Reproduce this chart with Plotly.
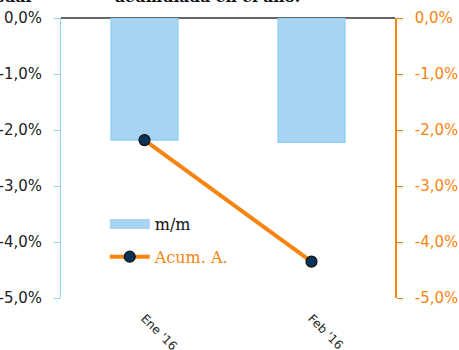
import plotly.graph_objects as go

categories = ["Ene '16", "Feb '16"]
mm_values = [-2.18, -2.22]
acum_values = [-2.18, -4.35]
tick_vals = [0, -1, -2, -3, -4, -5]
tick_text = ["0,0%", "-1,0%", "-2,0%", "-3,0%", "-4,0%", "-5,0%"]

ORANGE = "#f7840f"
BLUE_FILL = "#a8d4f3"
BLUE_LINE = "#8fd0f5"

fig = go.Figure()
fig.add_trace(go.Bar(
    x=categories, y=mm_values, name="m/m", width=0.4,
    marker=dict(color=BLUE_FILL, line=dict(color=BLUE_LINE, width=1.5)),
    showlegend=False, yaxis="y",
))
# legend entry for the bars (wide swatch like the reference)
fig.add_trace(go.Scatter(
    x=[None], y=[None], name="m/m", mode="lines",
    line=dict(color=BLUE_FILL, width=10),
    legendgroup="a", yaxis="y",
))
fig.add_trace(go.Scatter(
    x=categories, y=acum_values,
    name='<span style="color:%s">Acum. A.</span>' % ORANGE,
    mode="lines+markers",
    line=dict(color=ORANGE, width=4),
    marker=dict(color="#0b3356", size=11, line=dict(color="#111111", width=1.2)),
    legendgroup="b", yaxis="y2",
))

fig.update_layout(
    width=459, height=350,
    margin=dict(l=61, r=64, t=18, b=52, autoexpand=False),
    paper_bgcolor="white", plot_bgcolor="white",
    showlegend=True,
    legend=dict(x=0.131, y=0.325, xanchor="left", yanchor="top",
                traceorder="grouped", tracegroupgap=9,
                font=dict(family="DejaVu Serif", size=16, color="#111111"),
                bgcolor="rgba(0,0,0,0)", itemwidth=40),
    xaxis=dict(showgrid=False, showline=False, ticks="", tickangle=45,
               ticklabelstandoff=10, automargin=False,
               tickfont=dict(family="DejaVu Sans", size=12, color="#222222")),
    yaxis=dict(range=[-5, 0], tickvals=tick_vals, ticktext=tick_text,
               showgrid=False, zeroline=True, zerolinecolor="#666666", zerolinewidth=2,
               showline=True, linecolor=BLUE_LINE, linewidth=1,
               ticks="outside", ticklen=6, tickcolor=BLUE_LINE,
               ticklabelstandoff=9, automargin=False,
               tickfont=dict(family="DejaVu Sans", size=15, color="#222222")),
    yaxis2=dict(range=[-5, 0], tickvals=tick_vals, ticktext=tick_text,
                overlaying="y", side="right",
                showgrid=False, zeroline=False,
                showline=True, linecolor=ORANGE, linewidth=1.5,
                ticks="outside", ticklen=6, tickcolor=ORANGE,
                ticklabelstandoff=9, automargin=False,
                tickfont=dict(family="DejaVu Sans", size=15, color=ORANGE)),
    annotations=[
        dict(text="<b>acumulada en el año.</b>", xref="paper", yref="paper",
             x=0.44, y=1.035, xanchor="center", yanchor="bottom", showarrow=False,
             font=dict(family="DejaVu Serif", size=15.5, color="#111111")),
        dict(text="<b>mensual</b>", xref="paper", yref="paper",
             x=-0.08, y=1.035, xanchor="right", yanchor="bottom", showarrow=False,
             font=dict(family="DejaVu Serif", size=15.5, color="#111111")),
    ],
)

fig.write_html("out.html")
